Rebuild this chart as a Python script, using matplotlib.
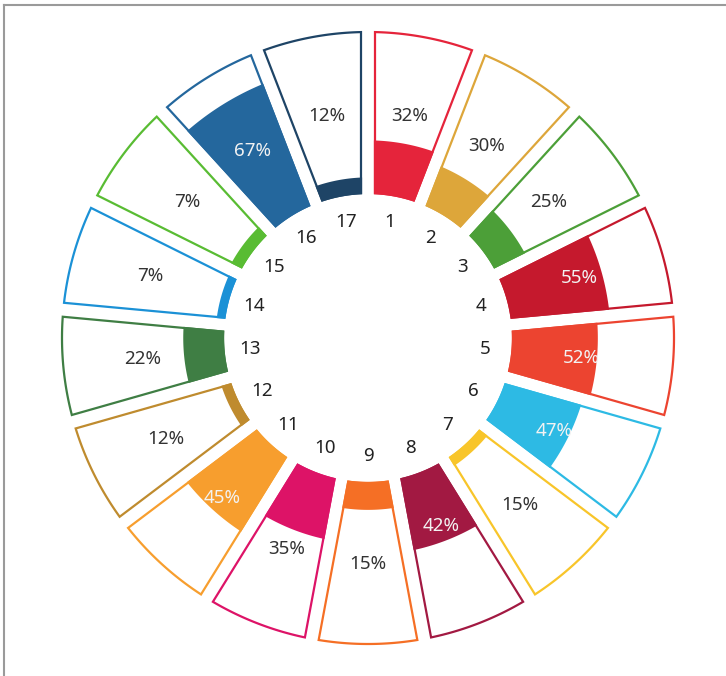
import numpy as np
import matplotlib
matplotlib.use("Agg")
import matplotlib.pyplot as plt
from matplotlib.patches import Polygon
from matplotlib.lines import Line2D

plt.rcParams['font.family'] = ['Noto Sans', 'DejaVu Sans']

# goal numbers, labelled share and the filled share
goals = [str(i) for i in range(1, 18)]
labels = [32, 30, 25, 55, 52, 47, 15, 42, 15, 35, 45, 12, 22, 7, 7, 67, 12]
fills = [32, 25, 20, 60, 52, 48, 5, 44, 16, 37, 53, 5, 24, 4, 6, 80, 9]
colors = ['#E5243B', '#DDA63A', '#4C9F38', '#C5192D', '#EC4430', '#2DBAE4',
          '#F8C52A', '#A21942', '#F56F25', '#DD1367', '#F79E2E', '#BF8B2E',
          '#3F7E44', '#1B91D6', '#59BC33', '#24679D', '#1E4466']

W, H = 726, 676
cx, cy = 368, 338          # centre of the wheel in pixels
r_in, r_out = 145, 306
half_gap = 7
n = len(goals)
step = 2 * np.pi / n


def sector(a0, a1, r1, r2):
    # wedge with parallel gaps: edges are radial lines shifted by half_gap
    pts = []
    d1 = np.arcsin(half_gap / r1)
    d2 = np.arcsin(half_gap / r2)
    for t in np.linspace(a0 + d2, a1 - d2, 40):
        pts.append((r2 * np.sin(t), r2 * np.cos(t)))
    for t in np.linspace(a1 - d1, a0 + d1, 40):
        pts.append((r1 * np.sin(t), r1 * np.cos(t)))
    return np.array(pts)


fig = plt.figure(figsize=(W / 100, H / 100), dpi=100)
ax = fig.add_axes([0, 0, 1, 1])
ax.set_xlim(-cx, W - cx)
ax.set_ylim(-(H - cy), cy)
ax.set_aspect('equal')
ax.axis('off')

for i in range(n):
    a0, a1 = i * step, (i + 1) * step
    col = colors[i]
    ax.add_patch(Polygon(sector(a0, a1, r_in, r_out), closed=True,
                         facecolor='white', edgecolor=col, lw=1.6, zorder=1))
    r_fill = r_in + fills[i] / 100 * (r_out - r_in)
    ax.add_patch(Polygon(sector(a0, a1, r_in, r_fill), closed=True,
                         facecolor=col, edgecolor=col, lw=1.6, zorder=2))

    mid = (a0 + a1) / 2
    # goal number inside the ring
    ax.text(118 * np.sin(mid), 118 * np.cos(mid), goals[i], ha='center',
            va='center', fontsize=13.5, color='#222222', zorder=3)

    # percentage label, pulled inside the bar end when the fill reaches it
    inside = r_fill > 205
    r_lab = min(220, r_fill - 14) if inside else 226
    ax.text(r_lab * np.sin(mid), r_lab * np.cos(mid), f'{labels[i]}%',
            ha='center', va='center', fontsize=13.5,
            color='#f2f2f2' if inside else '#333333', zorder=3)

# thin grey frame along the top and left edge
fig.add_artist(Line2D([4 / W, 4 / W], [0, 1 - 5 / H], color='#9a9a9a', lw=1.5))
fig.add_artist(Line2D([4 / W, 1], [1 - 5 / H, 1 - 5 / H], color='#9a9a9a', lw=1.5))

fig.savefig('out.png', dpi=100, facecolor='white')
